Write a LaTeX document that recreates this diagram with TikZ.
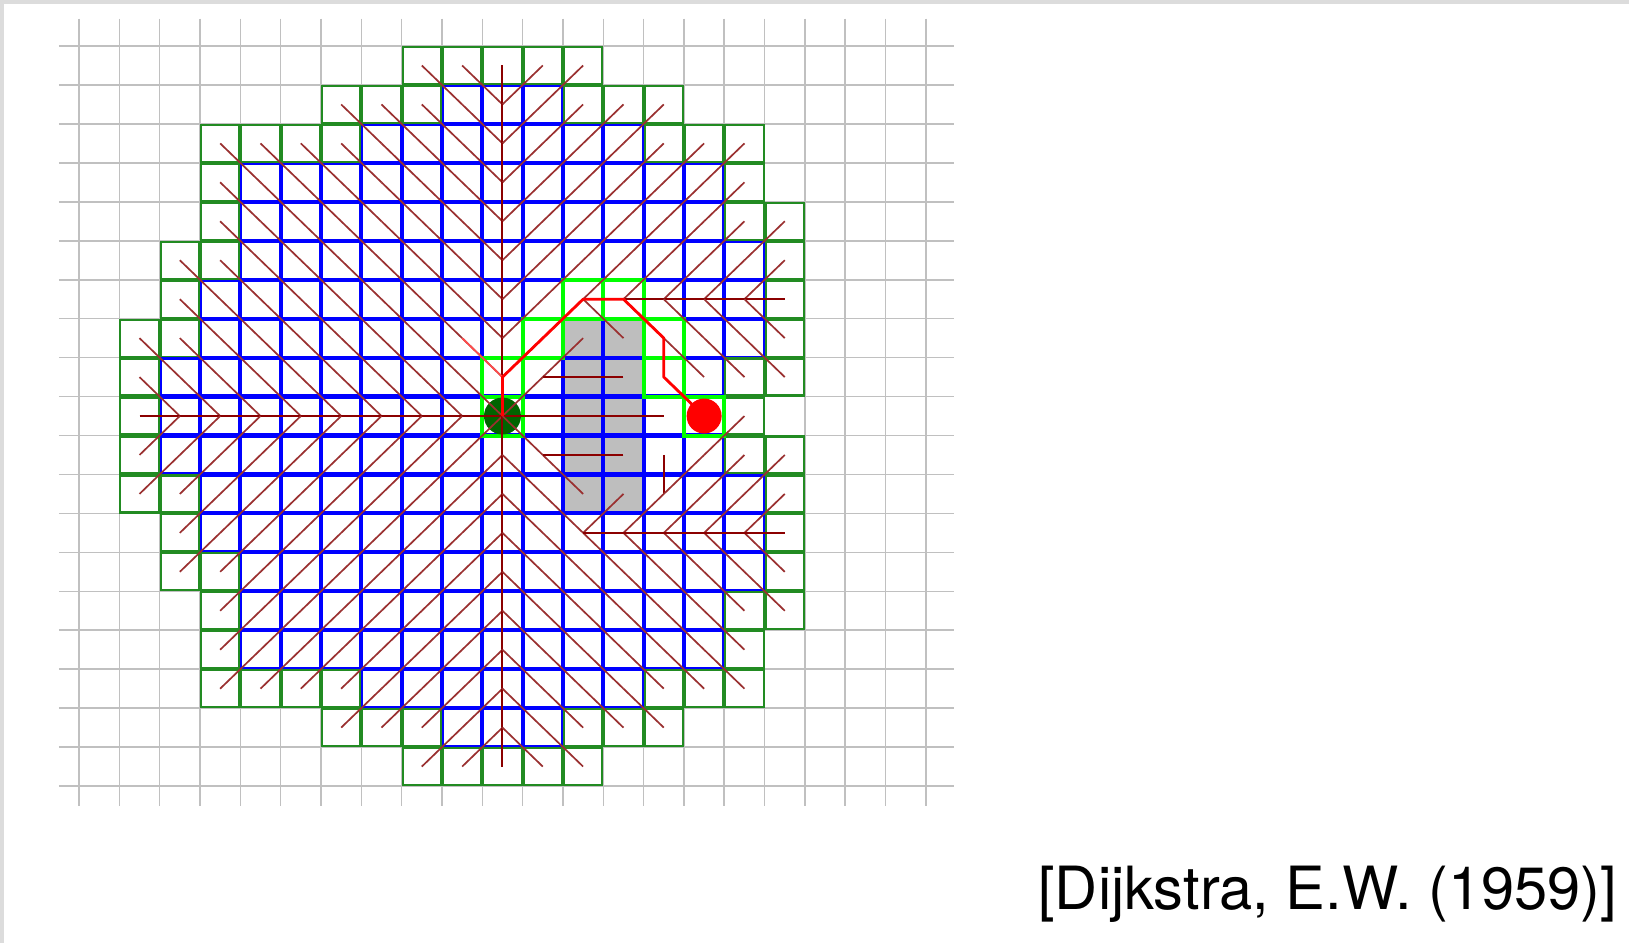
\documentclass[tikz,border=0pt]{standalone}
\usepackage{fontspec}
\setmainfont{TeX Gyre Heros}
\definecolor{cframe}{HTML}{DCDCDC}
\definecolor{cgrid}{HTML}{C0C0C0}
\definecolor{cblue}{HTML}{0000FF}
\definecolor{copen}{HTML}{228B22}
\definecolor{cpath}{HTML}{00FF00}
\definecolor{cobst}{HTML}{BEBEBE}
\definecolor{cptr}{HTML}{8B0000}
\definecolor{cptrdiag}{HTML}{9A3030}
\definecolor{cred}{HTML}{FF0000}
\definecolor{cstart}{HTML}{006400}

% row / first col / first closed / last closed / last col
\newcommand{\visited}{0/8/99/0/12, 1/6/9/11/14, 2/3/7/13/16, 3/3/4/15/16,
  4/3/4/15/17, 5/2/4/16/17, 6/2/3/16/17, 7/1/3/16/17, 8/1/2/15/17,
  9/1/2/15/16, 10/1/2/15/17, 11/1/3/16/17, 12/2/3/16/17, 13/2/4/16/17,
  14/3/4/15/17, 15/3/4/15/16, 16/3/7/13/16, 17/6/9/11/14, 18/8/99/0/12}

% pointer from cell (#1,#2) to its parent (#1+#3,#2+#4)
\newcommand{\ptrline}[4]{%
  \pgfmathtruncatemacro{\isstraight}{(#3==0)||(#4==0)}%
  \ifnum\isstraight=1 \draw[ptr] (#1+.5,#2+.5) -- ++(#3,#4);%
  \else \draw[ptrdiag] (#1+.5,#2+.5) -- ++(#3,#4);\fi}

\begin{document}
\begin{tikzpicture}[x=20.165pt, y=-19.475pt,
  closedbox/.style={draw=cblue, line width=1.1pt},
  openbox/.style={draw=copen, line width=1.1pt},
  pathbox/.style={draw=cpath, line width=2pt},
  ptr/.style={cptr, line width=1pt},
  ptrdiag/.style={cptrdiag, line width=0.85pt},
  ptrfaint/.style={cred!70!white, line width=0.85pt},
  route/.style={cred, line width=1.4pt, line join=round},
  dot/.style={circle, inner sep=0pt}]
  \useasboundingbox (-1.959,-1.181) rectangle (38.433,23.029);
  \fill[cframe] (-1.959,-1.181) rectangle (38.433,23.029);
  \fill[white] (-1.872,-1.078) rectangle (38.433,23.029);
  % grid
  \foreach \i in {0,...,21} \draw[cgrid, line width=0.8pt] (\i,-0.7) -- (\i,19.5);
  \foreach \j in {0,...,19} \draw[cgrid, line width=0.8pt] (-0.5,\j) -- (21.7,\j);
  % costly cells
  \fill[cobst] (12,7) rectangle (14,12);
  % open rim and closed inside
  \foreach \r/\lo/\cb/\ce/\hi in \visited {
    \foreach \c in {\lo,...,\hi}{
      \pgfmathtruncatemacro{\isclosed}{0}
      \ifnum\c<\cb \else\ifnum\c>\ce \else \pgfmathtruncatemacro{\isclosed}{1}\fi\fi
      \ifnum\isclosed=1
        \draw[closedbox] (\c+.025,\r+.025) rectangle (\c+.975,\r+.975);
      \else
        \draw[openbox] (\c+.025,\r+.025) rectangle (\c+.975,\r+.975);
      \fi
    }
  }
  % path cells
  \foreach \c/\r [count=\i] in {15/9,14/8,14/7,13/6,12/6,11/7,10/8,10/9}{
    \draw[pathbox] (\c,\r) rectangle ++(1,1);
    \coordinate (p\i) at (\c+.5,\r+.5);
  }
  \node[dot, fill=cstart, minimum size=18.5pt] (start) at (p8) {};
  % parent pointers, straight towards the start
  \foreach \r/\lo/\cb/\ce/\hi in \visited {
    \foreach \c in {\lo,...,\hi}{
      \pgfmathtruncatemacro{\zone}{((\c>12)&&(\r>5)&&(\r<13))||((\c==12)&&((\r==8)||(\r==10)))||((\c==10)&&(\r==9))}
      \ifnum\zone=0
        \pgfmathtruncatemacro{\dx}{(\c<10)-(\c>10)}
        \pgfmathtruncatemacro{\dy}{(\r<9)-(\r>9)}
        \ptrline{\c}{\r}{\dx}{\dy}
      \fi
    }
  }
  % parent pointers around the gray cells
  \foreach \c/\r/\dx/\dy in {13/6/-1/0, 14/6/-1/0, 15/6/-1/0, 16/6/-1/0, 17/6/-1/0,
      13/7/-1/-1, 14/7/-1/-1, 15/7/-1/-1, 16/7/-1/-1, 17/7/-1/-1,
      12/8/-1/0, 13/8/-1/0, 14/8/0/-1, 15/8/-1/-1, 16/8/-1/-1, 17/8/-1/-1,
      13/9/-1/0, 14/9/-1/0, 15/9/-1/-1, 16/9/-1/1,
      12/10/-1/0, 13/10/-1/0, 14/10/0/1, 15/10/-1/1, 16/10/-1/1, 17/10/-1/1,
      13/11/-1/1, 14/11/-1/1, 15/11/-1/1, 16/11/-1/1, 17/11/-1/1,
      13/12/-1/0, 14/12/-1/0, 15/12/-1/0, 16/12/-1/0, 17/12/-1/0}
    {\ptrline{\c}{\r}{\dx}{\dy}}
  \draw[ptrfaint] (9.5,7.5) -- (p7);
  % shortest path
  \draw[route] (p1) \foreach \i in {2,...,8}{ -- (p\i)};
  \node[dot, fill=cred, minimum size=17.5pt] (goal) at (p1) {};
  \node[anchor=base east, inner sep=0pt, font=\fontsize{29.8}{32}\selectfont]
    (cite) at (38.148,22.18) {[Dijkstra, E.W. (1959)]};
\end{tikzpicture}
\end{document}
